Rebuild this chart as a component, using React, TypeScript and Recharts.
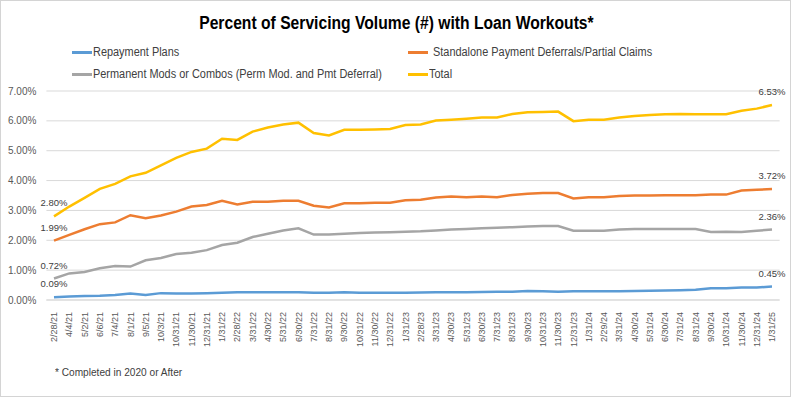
import React from 'react';
import { LineChart, Line, XAxis, YAxis, CartesianGrid, Legend } from 'recharts';

const dates = [
  '2/28/21', '4/4/21', '5/2/21', '6/6/21', '7/4/21', '8/1/21', '9/5/21', '10/3/21', '10/31/21', '11/30/21', '12/31/21',
  '1/31/22', '2/28/22', '3/31/22', '4/30/22', '5/31/22', '6/30/22', '7/31/22', '8/31/22', '9/30/22', '10/31/22', '11/30/22', '12/31/22',
  '1/31/23', '2/28/23', '3/31/23', '4/30/23', '5/31/23', '6/30/23', '7/31/23', '8/31/23', '9/30/23', '10/31/23', '11/30/23', '12/31/23',
  '1/31/24', '2/29/24', '3/31/24', '4/30/24', '5/31/24', '6/30/24', '7/31/24', '8/31/24', '9/30/24', '10/31/24', '11/30/24', '12/31/24',
  '1/31/25',
];

const repayment = [
  0.09, 0.12, 0.13, 0.14, 0.17, 0.22, 0.17, 0.23, 0.22, 0.22, 0.23,
  0.24, 0.26, 0.26, 0.26, 0.26, 0.26, 0.24, 0.24, 0.26, 0.24, 0.24, 0.24,
  0.24, 0.25, 0.26, 0.26, 0.26, 0.27, 0.28, 0.28, 0.30, 0.29, 0.28, 0.29,
  0.29, 0.29, 0.29, 0.30, 0.31, 0.32, 0.33, 0.34, 0.39, 0.39, 0.42, 0.42,
  0.45,
];

const standalone = [
  1.99, 2.18, 2.37, 2.54, 2.60, 2.84, 2.74, 2.83, 2.96, 3.13, 3.18,
  3.32, 3.20, 3.29, 3.29, 3.32, 3.32, 3.16, 3.10, 3.24, 3.24, 3.26, 3.26,
  3.34, 3.36, 3.43, 3.47, 3.44, 3.47, 3.44, 3.52, 3.56, 3.58, 3.58, 3.40,
  3.44, 3.44, 3.48, 3.50, 3.50, 3.51, 3.51, 3.51, 3.53, 3.53, 3.67, 3.69,
  3.72,
];

const permanent = [
  0.72, 0.89, 0.94, 1.06, 1.14, 1.12, 1.33, 1.41, 1.54, 1.58, 1.67,
  1.84, 1.92, 2.11, 2.22, 2.33, 2.40, 2.19, 2.19, 2.22, 2.24, 2.26, 2.27,
  2.29, 2.30, 2.33, 2.36, 2.38, 2.40, 2.42, 2.44, 2.46, 2.48, 2.48, 2.32,
  2.32, 2.32, 2.36, 2.38, 2.38, 2.38, 2.38, 2.38, 2.28, 2.29, 2.28, 2.32,
  2.36,
];

const total = [
  2.80, 3.13, 3.42, 3.72, 3.89, 4.14, 4.26, 4.51, 4.76, 4.96, 5.07,
  5.40, 5.36, 5.64, 5.78, 5.88, 5.94, 5.59, 5.51, 5.70, 5.70, 5.71, 5.73,
  5.86, 5.88, 6.01, 6.04, 6.07, 6.11, 6.11, 6.23, 6.29, 6.30, 6.31, 5.99,
  6.04, 6.04, 6.11, 6.16, 6.20, 6.22, 6.23, 6.22, 6.22, 6.22, 6.34, 6.41,
  6.53,
];

const yTicks = [0, 1, 2, 3, 4, 5, 6, 7];

const seriesMeta = [
  { key: 'repayment', name: 'Repayment Plans', color: '#5B9BD5' },
  { key: 'standalone', name: 'Standalone Payment Deferrals/Partial Claims', color: '#ED7D31' },
  { key: 'permanent', name: 'Permanent Mods or Combos (Perm Mod. and Pmt Deferral)', color: '#A5A5A5' },
  { key: 'total', name: 'Total', color: '#FFC000' },
];

const data = dates.map((d, i) => ({
  date: d,
  repayment: repayment[i],
  standalone: standalone[i],
  permanent: permanent[i],
  total: total[i],
}));

const LAST = dates.length - 1;
const TICK_FONT = '"Liberation Sans", Arial, sans-serif';
const TEXT_FONT = '"Liberation Sans", Arial, sans-serif';

const endLabel = (props: any) => {
  const { x, y, index, value, viewBox } = props;
  if (index !== 0 && index !== LAST) return null;
  const cx = viewBox && typeof viewBox.x === 'number' ? viewBox.x : x;
  const cy = viewBox && typeof viewBox.y === 'number' ? viewBox.y : y;
  return (
    <text x={cx} y={cy - 10} textAnchor="middle" fontSize={9.5} fill="#404040" fontFamily={TICK_FONT}>
      {`${Number(value).toFixed(2)}%`}
    </text>
  );
};

const XTick = (props: any) => {
  const { x, y, payload } = props;
  return (
    <text
      transform={`translate(${x},${y + 4}) rotate(-90)`}
      textAnchor="end"
      dy="0.35em"
      fontSize={9}
      fill="#595959"
      fontFamily={TICK_FONT}
    >
      {payload.value}
    </text>
  );
};

const renderLegend = () => {
  const items = [
    { ...seriesMeta[0], left: 72, top: 52 },
    { ...seriesMeta[1], left: 408, top: 52 },
    { ...seriesMeta[2], left: 72, top: 74 },
    { ...seriesMeta[3], left: 408, top: 74 },
  ];
  return (
    <div style={{ position: 'relative', width: 791, height: 0 }}>
      {items.map((it) => (
        <div
          key={it.key}
          style={{
            position: 'absolute',
            left: it.left,
            top: it.top - 8,
            height: 16,
            display: 'flex',
            alignItems: 'center',
            whiteSpace: 'nowrap',
            fontFamily: TEXT_FONT,
            fontSize: 12,
            color: '#404040',
          }}
        >
          <span style={{ display: 'inline-block', width: 20, height: 3, background: it.color, marginRight: it.key === 'standalone' ? 5 : 1 }} />
          <span style={{ display: 'inline-block', transform: 'scaleX(0.91)', transformOrigin: 'left center' }}>{it.name}</span>
        </div>
      ))}
    </div>
  );
};

export default function App() {
  return (
    <div
      style={{
        position: 'absolute',
        left: 0,
        top: 0,
        width: 791,
        height: 397,
        background: '#ffffff',
        boxSizing: 'border-box',
        border: '1px solid #d4d4d4',
        overflow: 'hidden',
      }}
    >
      <div
        style={{
          position: 'absolute',
          left: 0,
          top: 12,
          width: 791,
          textAlign: 'center',
          fontFamily: TEXT_FONT,
          fontWeight: 'bold',
          fontSize: 18,
          color: '#000000',
          transform: 'scaleX(0.87)',
          transformOrigin: '395px 0',
        }}
      >
        Percent of Servicing Volume (#) with Loan Workouts*
      </div>
      <div
        style={{
          position: 'absolute',
          left: 54,
          top: 365,
          fontFamily: TEXT_FONT,
          fontSize: 11.5,
          color: '#404040',
          transform: 'scaleX(0.88)',
          transformOrigin: 'left center',
          whiteSpace: 'nowrap',
        }}
      >
        * Completed in 2020 or After
      </div>
      <div style={{ position: 'absolute', left: -1, top: -1 }}>
        <LineChart
          width={791}
          height={397}
          data={data}
          margin={{ top: 91, right: 11.4, left: 6.4, bottom: 52 }}
        >
          <CartesianGrid vertical={false} stroke="#d9d9d9" strokeWidth={1} />
          <XAxis
            dataKey="date"
            interval={0}
            tick={<XTick />}
            tickLine={false}
            axisLine={{ stroke: '#d9d9d9' }}
            height={45}
            padding={{ left: 7.6, right: 7.6 }}
          />
          <YAxis
            domain={[0, 7]}
            ticks={yTicks}
            tickFormatter={(v: number) => `${v.toFixed(2)}%`}
            tick={{ fontSize: 10, fill: '#595959', fontFamily: TICK_FONT }}
            tickLine={false}
            axisLine={false}
            width={40}
            tickMargin={4}
          />
          <Legend content={renderLegend} wrapperStyle={{ position: 'absolute', left: 0, top: 0, width: 791 }} />
          {seriesMeta.map((s) => (
            <Line
              key={s.key}
              type="linear"
              dataKey={s.key}
              name={s.name}
              stroke={s.color}
              strokeWidth={2.5}
              dot={false}
              isAnimationActive={false}
              label={endLabel}
            />
          ))}
        </LineChart>
      </div>
    </div>
  );
}
